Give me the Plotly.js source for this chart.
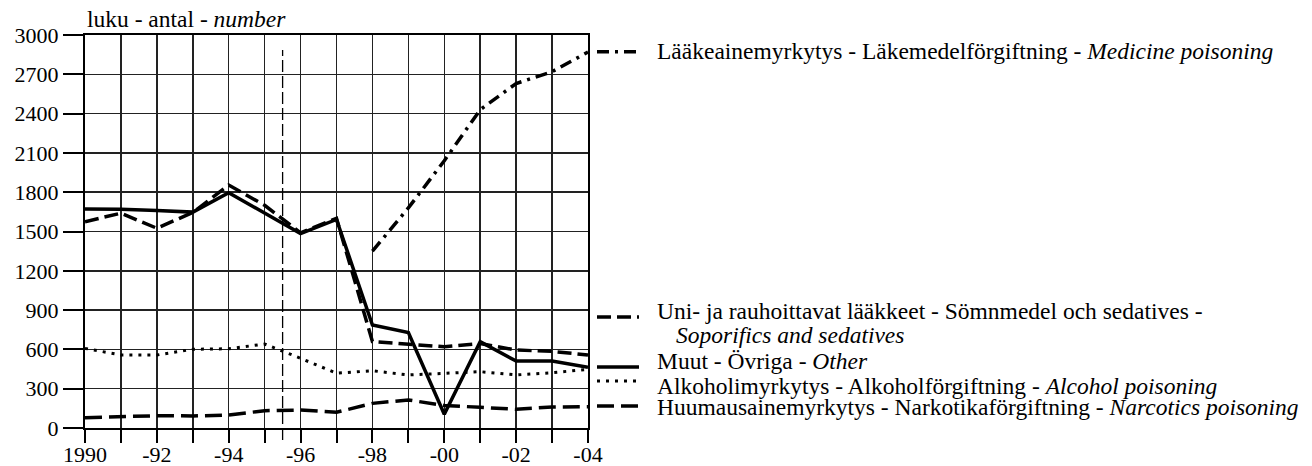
<!DOCTYPE html>
<html>
<head>
<meta charset="utf-8">
<script src="https://cdn.plot.ly/plotly-3.0.1.min.js"></script>
<style>html,body{margin:0;padding:0;background:#fff;}#chart{width:1312px;height:466px;}</style>
</head>
<body>
<div id="chart"></div>
<script>
const years = [1990,1991,1992,1993,1994,1995,1996,1997,1998,1999,2000,2001,2002,2003,2004];
const medicine  = [null,null,null,null,null,null,null,null,1350,1680,2040,2430,2630,2720,2870];
const sedatives = [1575,1640,1525,1645,1855,1700,1490,1600,660,640,620,645,595,585,557];
const other     = [1672,1670,1660,1648,1796,1641,1484,1592,786,728,105,659,511,511,463];
const alcohol   = [608,557,557,601,605,641,532,418,437,405,417,430,405,422,448];
const narcotics = [79,86,94,92,99,132,137,120,188,214,172,158,143,160,163];
const xTickVals = years;
const xTickText = ['1990','','-92','','-94','','-96','','-98','','-00','','-02','','-04'];
const yTickVals = [0,300,600,900,1200,1500,1800,2100,2400,2700,3000];

const legendLabels = {
  medicine: 'Lääkeainemyrkytys - Läkemedelförgiftning - <i>Medicine poisoning</i>',
  sedatives1: 'Uni- ja rauhoittavat lääkkeet - Sömnmedel och sedatives -',
  sedatives2: '<i>Soporifics and sedatives</i>',
  other: 'Muut - Övriga - <i>Other</i>',
  alcohol: 'Alkoholimyrkytys - Alkoholförgiftning - <i>Alcohol poisoning</i>',
  narcotics: 'Huumausainemyrkytys - Narkotikaförgiftning - <i>Narcotics poisoning</i>'
};

const styles = {
  medicine:  {color:'#000', width:3.5, dash:'12px,6px,3px,6px'},
  sedatives: {color:'#000', width:3.5, dash:'14px,6px'},
  other:     {color:'#000', width:3.5, dash:'solid'},
  alcohol:   {color:'#000', width:3, dash:'3px,6px'},
  narcotics: {color:'#000', width:3.5, dash:'17px,7px'}
};

const traces = [
  {x:years, y:narcotics, mode:'lines', line:styles.narcotics, connectgaps:false},
  {x:years, y:alcohol, mode:'lines', line:styles.alcohol},
  {x:years, y:sedatives, mode:'lines', line:styles.sedatives},
  {x:years, y:other, mode:'lines', line:styles.other},
  {x:years, y:medicine, mode:'lines', line:styles.medicine, connectgaps:false}
];

const L = 85, R = 588, T = 35, B = 428;
const W = 1312, H = 466;
const px = v => (v - L) / (R - L);
const py = v => (B - v) / (B - T);
const FONT = 'Liberation Serif, DejaVu Serif, Times, serif';
const TXT = 23.5;

const shapes = [
  {type:'line', xref:'x', yref:'paper', x0:1995.5, x1:1995.5, y0:py(440), y1:py(50),
   line:{color:'#000', width:1.3, dash:'12px,4px'}}
];
const annotations = [
  {xref:'paper', yref:'paper', x:0, y:py(19), xanchor:'left', yanchor:'middle', showarrow:false,
   text:'luku - antal - <i>number</i>', font:{size:23.5, family:FONT}}
];
function legendRow(key, sampleY, textY, text){
  shapes.push({type:'line', xref:'paper', yref:'paper', x0:px(597), x1:px(639), y0:py(sampleY), y1:py(sampleY),
    line:styles[key]});
  annotations.push({xref:'paper', yref:'paper', x:px(655), y:py(textY), xanchor:'left', yanchor:'middle',
    showarrow:false, text:text, font:{size:TXT, family:FONT}});
}
legendRow('medicine', 51.7, 51, legendLabels.medicine);
legendRow('sedatives', 317, 311, legendLabels.sedatives1);
annotations.push({xref:'paper', yref:'paper', x:px(674), y:py(335), xanchor:'left', yanchor:'middle',
  showarrow:false, text:legendLabels.sedatives2, font:{size:TXT, family:FONT}});
legendRow('other', 367, 361, legendLabels.other);
legendRow('alcohol', 381, 386, legendLabels.alcohol);
legendRow('narcotics', 406, 407, legendLabels.narcotics);

const layout = {
  width:W, height:H,
  margin:{l:L, r:W-R, t:T, b:H-B, pad:0},
  paper_bgcolor:'#fff', plot_bgcolor:'#fff',
  showlegend:false,
  font:{family:FONT, size:22, color:'#000'},
  xaxis:{range:[1990,2004], tickvals:xTickVals, ticktext:xTickText, ticks:'outside', ticklen:13, tickwidth:2,
    tickcolor:'#000', ticklabelstandoff:-7, showgrid:true, gridcolor:'#222', gridwidth:1.5, showline:true, linecolor:'#000',
    linewidth:2, mirror:true, zeroline:false, fixedrange:true, tickfont:{family:FONT, size:22}},
  yaxis:{range:[0,3000], tickvals:yTickVals, ticks:'outside', ticklen:20, tickwidth:2, tickcolor:'#000',
    showgrid:true, gridcolor:'#222', gridwidth:1.5, showline:true, linecolor:'#000', linewidth:2,
    mirror:true, zeroline:false, fixedrange:true, tickfont:{family:FONT, size:22}},
  shapes:shapes,
  annotations:annotations
};
Plotly.newPlot('chart', traces, layout, {staticPlot:true, displayModeBar:false});
</script>
</body>
</html>
